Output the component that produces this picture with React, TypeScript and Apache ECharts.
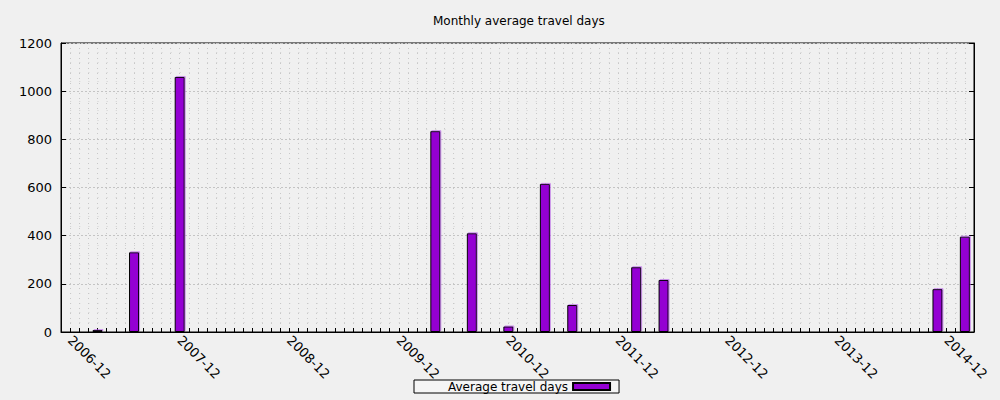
import React, { useEffect, useRef } from "react";
import * as echarts from "echarts";

// Month categories of the x axis (first and last month shown)
const startYear = 2006;
const startMonth = 11;
const monthCount = 101; // 2006-11 .. 2015-03

// Bars: month and average travel days
const barMonths = [
  "2007-03", "2007-07", "2007-12", "2010-04", "2010-08", "2010-12",
  "2011-04", "2011-07", "2012-02", "2012-05", "2014-11", "2015-02",
];
const barValues = [8, 331, 1059, 834, 410, 23, 615, 112, 269, 216, 178, 396];

const yTicks = [0, 200, 400, 600, 800, 1000, 1200];

const seriesName = "Average travel days";
const chartTitle = "Monthly average travel days";

function buildCategories(): string[] {
  const out: string[] = [];
  let y = startYear;
  let m = startMonth;
  for (let i = 0; i < monthCount; i++) {
    out.push(`${y}-${String(m).padStart(2, "0")}`);
    m++;
    if (m > 12) {
      m = 1;
      y++;
    }
  }
  return out;
}

export default function App() {
  const ref = useRef<HTMLDivElement>(null);

  useEffect(() => {
    if (!ref.current) return;
    const chart = echarts.init(ref.current, undefined, { renderer: "svg" });
    const categories = buildCategories();
    const valueByMonth: Record<string, number> = {};
    barMonths.forEach((mth, i) => (valueByMonth[mth] = barValues[i]));
    const data = categories.map((c) => (c in valueByMonth ? valueByMonth[c] : null));
    const font = "DejaVu Sans";

    chart.setOption({
      animation: false,
      backgroundColor: "#f0f0f0",
      textStyle: { fontFamily: font },
      title: {
        text: chartTitle,
        left: 428,
        top: 10,
        textStyle: { fontSize: 12, fontWeight: "normal", color: "#000", fontFamily: font },
      },
      legend: {
        data: [seriesName],
        left: 414,
        top: 380,
        align: "right",
        icon: "rect",
        itemWidth: 37,
        itemHeight: 7,
        padding: [0, 8, 0, 34],
        backgroundColor: "#f5f5f5",
        borderColor: "#000",
        borderWidth: 1,
        textStyle: { fontSize: 12, color: "#000", fontFamily: font, lineHeight: 13 },
      },
      grid: {
        left: 61,
        right: 26,
        top: 43,
        bottom: 68,
        show: true,
        borderColor: "#000",
        borderWidth: 1,
        backgroundColor: "#f0f0f0",
      },
      xAxis: {
        type: "category",
        data: categories,
        boundaryGap: false,
        axisLine: { show: true, lineStyle: { color: "#000", width: 1 } },
        axisTick: { show: true, inside: true, length: 4, interval: 0, lineStyle: { color: "#000" } },
        axisLabel: {
          interval: (_idx: number, value: string) => value.endsWith("-12"),
          rotate: -45,
          margin: 6,
          fontSize: 13,
          color: "#000",
          fontFamily: font,
        },
        splitLine: { show: true, interval: 0, lineStyle: { color: "#c8c8c8", type: [1, 4], width: 1 } },
      },
      yAxis: [
        {
          type: "value",
          min: yTicks[0],
          max: yTicks[yTicks.length - 1],
          interval: 200,
          axisLine: { show: true, lineStyle: { color: "#000" } },
          axisTick: { show: true, inside: true, length: 5, lineStyle: { color: "#000" } },
          axisLabel: { fontSize: 13, color: "#000", margin: 9, fontFamily: font, formatter: (v: number) => String(v) },
          splitLine: { show: true, lineStyle: { color: "#c4c4c4", type: [2, 2], width: 1 } },
          minorTick: { show: false, splitNumber: 5 },
          minorSplitLine: { show: true, lineStyle: { color: "#d0d0d0", type: [1, 8.13], width: 1 } },
        },
        {
          type: "value",
          position: "right",
          min: yTicks[0],
          max: yTicks[yTicks.length - 1],
          interval: 200,
          axisLine: { show: true, lineStyle: { color: "#000" } },
          axisTick: { show: true, inside: true, length: 5, lineStyle: { color: "#000" } },
          axisLabel: { show: false },
          splitLine: { show: false },
        },
      ],
      series: [
        {
          name: seriesName,
          type: "bar",
          data,
          barWidth: 10,
          itemStyle: {
            color: "#9400d3",
            borderColor: "#000",
            borderWidth: 1,
            shadowColor: "rgba(180, 90, 230, 0.6)",
            shadowBlur: 0,
            shadowOffsetX: 1,
            shadowOffsetY: -1,
          },
        },
      ],
    });

    return () => chart.dispose();
  }, []);

  return <div ref={ref} style={{ width: 1000, height: 400, position: "absolute", left: 0, top: 0 }} />;
}
